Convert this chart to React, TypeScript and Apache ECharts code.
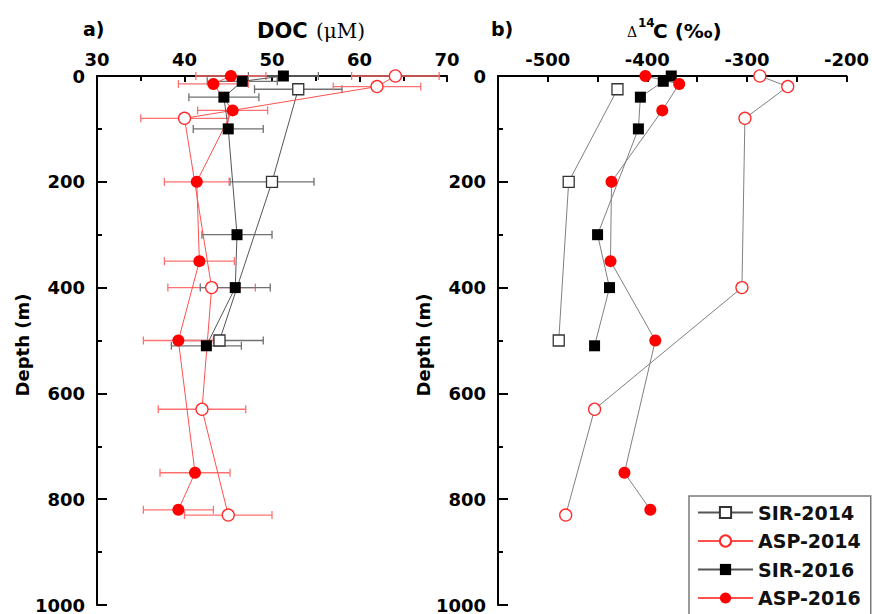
import React, { useEffect, useRef } from "react";
import * as echarts from "echarts";

// ---- Data ----
const seriesNames = ["SIR-2014", "ASP-2014", "SIR-2016", "ASP-2016"];

const sir2014Depth = [25, 200, 500];
const sir2014Doc = [53.0, 50.0, 44.0];
const sir2014DocErr = [5, 4.8, 5];
const sir2014D14C = [-430, -479, -489];

const asp2014Depth = [0, 20, 80, 400, 630, 830];
const asp2014Doc = [64.1, 62.0, 40.0, 43.1, 42.0, 45.0];
const asp2014DocErr = [5, 5, 5, 5, 5, 5];
const asp2014D14C = [-287, -259, -302, -305, -453, -482];

const sir2016Depth = [0, 10, 40, 100, 300, 400, 510];
const sir2016Doc = [51.3, 46.6, 44.5, 45.0, 46.0, 45.8, 42.5];
const sir2016DocErr = [4, 4, 4, 4, 4, 4, 4];
const sir2016D14C = [-376, -384, -407, -409, -450, -438, -453];

const asp2016Depth = [0, 15, 65, 200, 350, 500, 750, 820];
const asp2016Doc = [45.3, 43.3, 45.5, 41.4, 41.7, 39.3, 41.2, 39.3];
const asp2016DocErr = [4, 4, 4, 3.7, 4, 4, 4, 4];
const asp2016D14C = [-402, -368, -385, -436, -437, -392, -423, -397];

const docTicks = { min: 30, max: 70, interval: 10 };
const d14Ticks = { min: -550, max: -200, interval: 50 };
const depthTicks = { min: 0, max: 1000, interval: 200 };

const FONT = "DejaVu Sans";

const pairs = (xs: number[], ds: number[]) => xs.map((v, i) => [v, ds[i]]);
const errTriples = (xs: number[], ds: number[], es: number[]) =>
  xs.map((v, i) => [v, ds[i], es[i]]);

const styles: Record<string, any> = {
  "SIR-2014": {
    symbol: "rect",
    symbolSize: 11,
    itemStyle: { color: "#ffffff", borderColor: "#333333", borderWidth: 1.3 },
    lineA: "#555555",
    err: "#707070",
  },
  "ASP-2014": {
    symbol: "circle",
    symbolSize: 12,
    itemStyle: { color: "#ffffff", borderColor: "#ff2a2a", borderWidth: 1.3 },
    lineA: "#ff5050",
    err: "#ff7070",
  },
  "SIR-2016": {
    symbol: "rect",
    symbolSize: 11,
    itemStyle: { color: "#000000", borderColor: "#000000", borderWidth: 0 },
    lineA: "#555555",
    err: "#707070",
  },
  "ASP-2016": {
    symbol: "circle",
    symbolSize: 12,
    itemStyle: { color: "#ff0000", borderColor: "#ff0000", borderWidth: 0 },
    lineA: "#ff5050",
    err: "#ff7070",
  },
};

const datasets: Record<string, any> = {
  "SIR-2014": { depth: sir2014Depth, doc: sir2014Doc, err: sir2014DocErr, d14: sir2014D14C },
  "ASP-2014": { depth: asp2014Depth, doc: asp2014Doc, err: asp2014DocErr, d14: asp2014D14C },
  "SIR-2016": { depth: sir2016Depth, doc: sir2016Doc, err: sir2016DocErr, d14: sir2016D14C },
  "ASP-2016": { depth: asp2016Depth, doc: asp2016Doc, err: asp2016DocErr, d14: asp2016D14C },
};

function errorBarSeries(name: string, color: string) {
  const d = datasets[name];
  return {
    type: "custom",
    name: name + " err",
    xAxisIndex: 0,
    yAxisIndex: 0,
    z: 1,
    silent: true,
    clip: false,
    encode: { x: 0, y: 1 },
    data: errTriples(d.doc, d.depth, d.err),
    renderItem: (params: any, api: any) => {
      const x = api.value(0);
      const y = api.value(1);
      const e = api.value(2);
      const p1 = api.coord([x - e, y]);
      const p2 = api.coord([x + e, y]);
      const h = 4;
      const st = { stroke: color, lineWidth: 1.3 };
      return {
        type: "group",
        children: [
          { type: "line", shape: { x1: p1[0], y1: p1[1], x2: p2[0], y2: p2[1] }, style: st },
          { type: "line", shape: { x1: p1[0], y1: p1[1] - h, x2: p1[0], y2: p1[1] + h }, style: st },
          { type: "line", shape: { x1: p2[0], y1: p2[1] - h, x2: p2[0], y2: p2[1] + h }, style: st },
        ],
      };
    },
  };
}

function lineSeries(name: string, panel: number) {
  const d = datasets[name];
  const s = styles[name];
  return {
    type: "line",
    name,
    xAxisIndex: panel,
    yAxisIndex: panel,
    z: 3,
    symbol: s.symbol,
    symbolSize: s.symbolSize,
    showAllSymbol: true,
    clip: false,
    itemStyle: s.itemStyle,
    lineStyle: { color: panel === 0 ? s.lineA : "#808080", width: 1 },
    data: panel === 0 ? pairs(d.doc, d.depth) : pairs(d.d14, d.depth),
  };
}

const axisLabelStyle = { fontFamily: FONT, fontWeight: "bold" as const, fontSize: 18, color: "#000" };

function yAxis(gridIndex: number) {
  return {
    type: "value",
    gridIndex,
    inverse: true,
    min: depthTicks.min,
    max: depthTicks.max,
    interval: depthTicks.interval,
    axisLine: { show: true, lineStyle: { color: "#000", width: 2 } },
    axisTick: { show: true, inside: true, length: 10, lineStyle: { color: "#000", width: 2 } },
    minorTick: { show: true, splitNumber: 2, length: 5, lineStyle: { color: "#000", width: 2 } },
    splitLine: { show: false },
    minorSplitLine: { show: false },
    axisLabel: { ...axisLabelStyle, margin: 12, formatter: (v: number) => String(v) },
  };
}

export default function App() {
  const ref = useRef<HTMLDivElement>(null);
  useEffect(() => {
    if (!ref.current) return;
    const chart = echarts.init(ref.current, null, { renderer: "svg" });
    const series: any[] = [];
    seriesNames.forEach((n) => series.push(errorBarSeries(n, styles[n].err)));
    seriesNames.forEach((n) => series.push(lineSeries(n, 0)));
    seriesNames.forEach((n) => series.push(lineSeries(n, 1)));

    const option: any = {
      animation: false,
      backgroundColor: "#ffffff",
      textStyle: { fontFamily: FONT },
      grid: [
        { left: 97, top: 76, width: 350, height: 533 },
        { left: 498, top: 76, width: 352, height: 533 },
      ],
      xAxis: [
        {
          type: "value",
          gridIndex: 0,
          position: "top",
          min: docTicks.min,
          max: docTicks.max,
          interval: docTicks.interval,
          axisLine: { show: true, lineStyle: { color: "#000", width: 2 } },
          axisTick: { show: true, inside: true, length: 6, lineStyle: { color: "#000", width: 2 } },
          minorTick: { show: true, splitNumber: 2, length: 5, lineStyle: { color: "#000", width: 2 } },
          splitLine: { show: false },
          axisLabel: { ...axisLabelStyle, margin: 8 },
        },
        {
          type: "value",
          gridIndex: 1,
          position: "top",
          min: d14Ticks.min,
          max: d14Ticks.max,
          interval: d14Ticks.interval,
          axisLine: { show: true, lineStyle: { color: "#000", width: 2 } },
          axisTick: { show: true, inside: true, length: 6, lineStyle: { color: "#000", width: 2 } },
          splitLine: { show: false },
          axisLabel: {
            ...axisLabelStyle,
            margin: 8,
            formatter: (v: number) => (v % 100 === 0 ? String(v) : ""),
          },
        },
      ],
      yAxis: [yAxis(0), yAxis(1)],
      legend: {
        data: seriesNames,
        orient: "vertical",
        left: 689,
        top: 496,
        height: 140,
        itemWidth: 55,
        itemHeight: 14,
        itemGap: 9.5,
        padding: [7, 10, 10, 8],
        borderColor: "#7a7a7a",
        borderWidth: 1.5,
        backgroundColor: "#ffffff",
        textStyle: { fontFamily: FONT, fontWeight: "bold", fontSize: 19, color: "#111" },
      },
      graphic: [
        { type: "text", left: 83, top: 19, style: { text: "a)", fontFamily: FONT, fontWeight: "bold", fontSize: 19, fill: "#000" } },
        { type: "text", left: 491, top: 19, style: { text: "b)", fontFamily: FONT, fontWeight: "bold", fontSize: 19, fill: "#000" } },
        { type: "text", x: 257, y: 31, style: { text: "DOC", fontFamily: FONT, fontWeight: "bold", fontSize: 21, fill: "#000", verticalAlign: "middle" } },
        { type: "text", x: 316, y: 31, style: { text: "(μM)", fontFamily: "DejaVu Serif", fontSize: 20, fill: "#000", verticalAlign: "middle" } },
        { type: "text", x: 627, y: 32, style: { text: "Δ", fontFamily: "DejaVu Serif", fontSize: 14, fill: "#000", verticalAlign: "middle" } },
        { type: "text", x: 638, y: 23, style: { text: "14", fontFamily: FONT, fontWeight: "bold", fontSize: 12, fill: "#000", verticalAlign: "middle" } },
        { type: "text", x: 653, y: 31, style: { text: "C (‰)", fontFamily: FONT, fontWeight: "bold", fontSize: 20, fill: "#000", verticalAlign: "middle" } },
        { type: "text", x: 22, y: 345, rotation: Math.PI / 2, style: { text: "Depth (m)", fontFamily: FONT, fontWeight: "bold", fontSize: 18, fill: "#000", align: "center", verticalAlign: "middle" } },
        { type: "text", x: 423, y: 345, rotation: Math.PI / 2, style: { text: "Depth (m)", fontFamily: FONT, fontWeight: "bold", fontSize: 18, fill: "#000", align: "center", verticalAlign: "middle" } },
      ],
      series,
    };
    chart.setOption(option);
    return () => chart.dispose();
  }, []);
  return (
    <div
      ref={ref}
      style={{ position: "absolute", left: 0, top: 0, width: 872, height: 614, background: "#fff" }}
    />
  );
}
